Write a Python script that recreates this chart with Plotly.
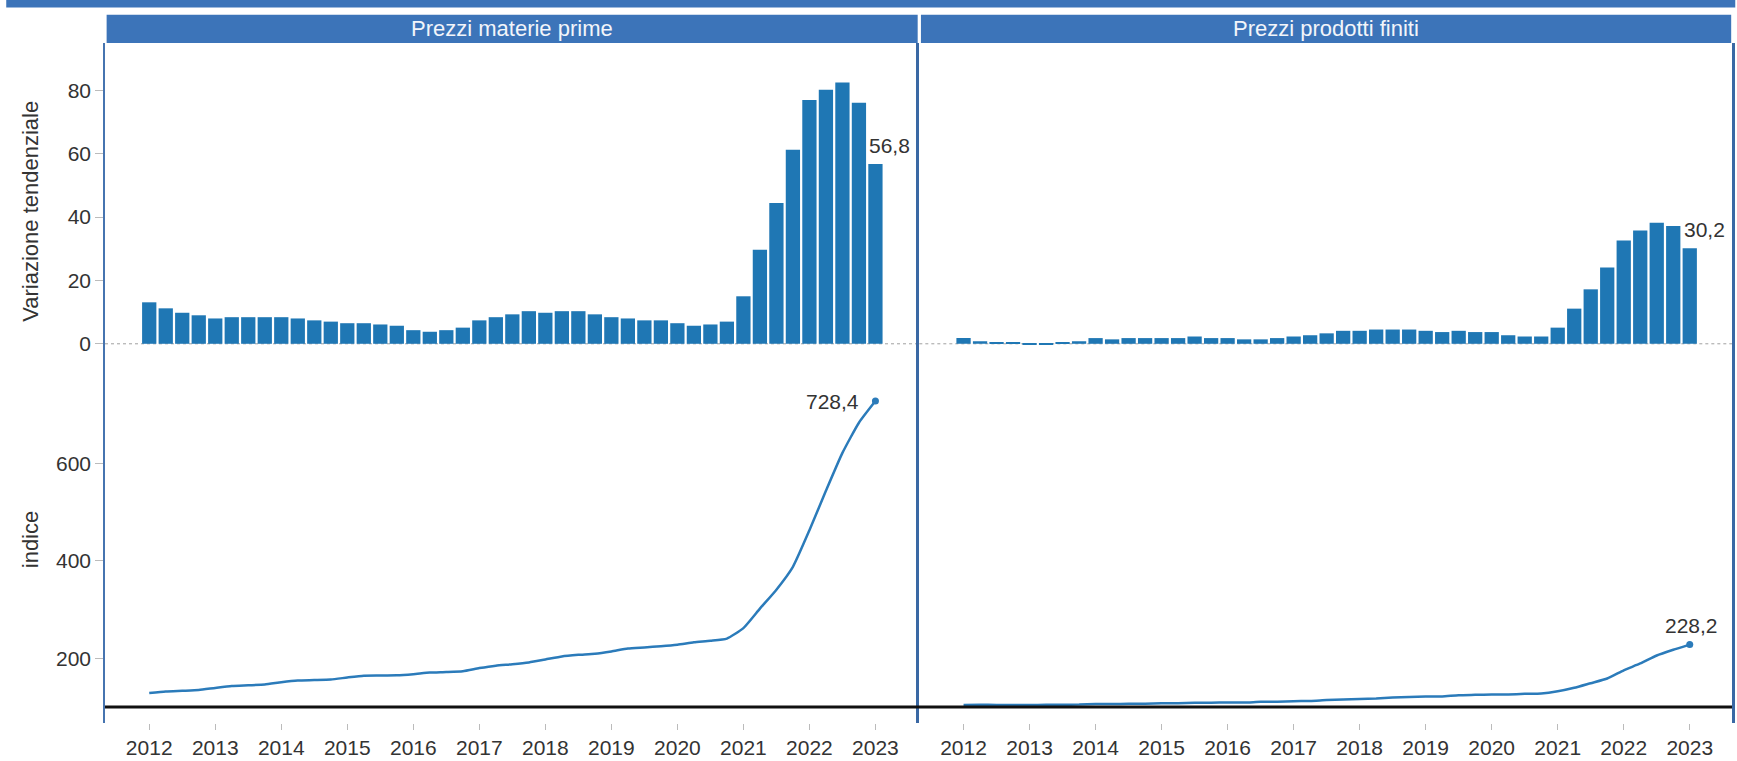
import plotly.graph_objects as go

# ---------------- data ----------------
years = list(range(2012, 2024))
quarters = [f"{y} T{q}" for y in range(2012, 2024) for q in range(1, 5)][:45]

panel_titles = ["Prezzi materie prime", "Prezzi prodotti finiti"]
y_title_bar = "Variazione tendenziale"
y_title_line = "indice"

# variazione tendenziale (%), trimestrale
var_materie = [13.1, 11.2, 9.8, 9.0, 8.0, 8.4, 8.4, 8.4, 8.4, 8.0,
               7.4, 7.0, 6.5, 6.5, 6.1, 5.7, 4.3, 3.8, 4.3, 5.1,
               7.4, 8.4, 9.3, 10.3, 9.8, 10.3, 10.3, 9.3, 8.4, 8.0,
               7.4, 7.4, 6.5, 5.7, 6.1, 7.0, 15.0, 29.7, 44.5, 61.3,
               77.0, 80.2, 82.5, 76.1, 56.8]
var_finiti = [1.8, 0.8, 0.4, 0.4, -0.2, -0.2, 0.4, 0.8, 1.8, 1.4,
              1.8, 1.8, 1.8, 1.8, 2.3, 1.8, 1.8, 1.4, 1.4, 1.8,
              2.3, 2.7, 3.3, 4.1, 4.1, 4.5, 4.5, 4.5, 4.1, 3.7,
              4.1, 3.7, 3.7, 2.7, 2.3, 2.3, 5.1, 11.1, 17.2, 24.1,
              32.6, 35.8, 38.2, 37.2, 30.2]

# indice
idx_materie = [128.8, 131.9, 133.3, 134.8, 139.1, 143.0, 144.5, 146.1, 150.8, 154.4,
               155.2, 156.3, 160.6, 164.4, 164.7, 165.2, 167.5, 170.6, 171.8, 173.6,
               179.9, 184.9, 187.8, 191.5, 197.5, 203.9, 207.1, 209.3, 214.1, 220.2,
               222.4, 224.8, 228.0, 232.8, 236.0, 240.5, 262.0, 302.0, 341.0, 388.0,
               463.0, 544.0, 622.0, 684.0, 728.4]
idx_finiti = [104.3, 104.6, 104.2, 104.1, 104.1, 104.4, 104.6, 104.9, 106.0, 105.9,
              106.5, 106.8, 107.9, 107.8, 108.9, 108.7, 109.4, 109.3, 110.5, 110.7,
              111.9, 112.3, 114.1, 115.2, 116.5, 117.4, 119.3, 120.4, 121.3, 121.7,
              124.2, 124.9, 125.8, 125.8, 127.0, 127.7, 132.2, 139.4, 148.9, 158.5,
              175.3, 189.4, 205.8, 217.5, 228.2]

tick_vals = [f"{y} T1" for y in years]
tick_text = [str(y) for y in years]

# ---------------- style ----------------
BAR = "#1f77b4"
LINE = "#2b7bba"
HEAD = "#3c74b9"
AXBLUE = "#4674b0"
TXT = "#333333"
FONT = "Arial, Liberation Sans, sans-serif"


def fmt(v):
    return f"{v:.1f}".replace(".", ",")


fig = go.Figure()

panels = [("x", "y", "y3", var_materie, idx_materie),
          ("x2", "y2", "y4", var_finiti, idx_finiti)]

for xa, yb, yl, bars, line in panels:
    fig.add_trace(go.Bar(x=quarters, y=bars, xaxis=xa, yaxis=yb,
                         marker=dict(color=BAR, line=dict(width=0)),
                         showlegend=False, hoverinfo="x+y"))
    fig.add_trace(go.Scatter(x=quarters, y=line, xaxis=xa, yaxis=yl, mode="lines",
                             line=dict(color=LINE, width=2.5, shape="spline", smoothing=0.5),
                             showlegend=False))
    fig.add_trace(go.Scatter(x=[quarters[-1]], y=[line[-1]], xaxis=xa, yaxis=yl,
                             mode="markers", marker=dict(color=LINE, size=7),
                             showlegend=False))

xr = [-2.68, 46.56]
xcommon = dict(type="category", categoryorder="array", categoryarray=quarters,
               range=xr, tickmode="array", tickvals=tick_vals, ticktext=tick_text,
               ticks="outside", ticklen=6, tickcolor="#bbbbbb", showline=False,
               showgrid=False, zeroline=False, tickangle=0,
               tickfont=dict(size=21, color=TXT, family=FONT))

ybar_rng = [-7.66, 95.0]
yline_rng = [67.1, 796.3]
ycommon = dict(showgrid=False, zeroline=False, ticks="outside", ticklen=8,
               tickcolor="#bbbbbb", tickfont=dict(size=21, color=TXT, family=FONT))

split = 0.522
fig.update_layout(
    width=1737, height=761,
    margin=dict(l=105, r=2, t=43, b=34),
    paper_bgcolor="white", plot_bgcolor="white",
    bargap=0.135,
    font=dict(family=FONT, color=TXT),
    xaxis=dict(domain=[0, 0.4995], anchor="y3", **xcommon),
    xaxis2=dict(domain=[0.5005, 1], anchor="y4", **xcommon),
    yaxis=dict(domain=[split, 1], anchor="x", range=ybar_rng, tickvals=[0, 20, 40, 60, 80],
               showline=True, linecolor=AXBLUE, linewidth=1.5, **ycommon),
    yaxis2=dict(domain=[split, 1], anchor="x2", range=ybar_rng, showticklabels=False,
                showline=True, linecolor="#3a68a4", linewidth=2.5, mirror=True,
                showgrid=False, zeroline=False, ticks=""),
    yaxis3=dict(domain=[0, split], anchor="x", range=yline_rng, tickvals=[200, 400, 600],
                showline=True, linecolor=AXBLUE, linewidth=1.5, **ycommon),
    yaxis4=dict(domain=[0, split], anchor="x2", range=yline_rng, showticklabels=False,
                showline=True, linecolor="#3a68a4", linewidth=2.5, mirror=True,
                showgrid=False, zeroline=False, ticks=""),
)

shapes = []
# top (cut) title band
shapes.append(dict(type="rect", xref="paper", yref="paper", x0=-0.0607, x1=1.002,
                   y0=1.0522, y1=1.07, fillcolor=HEAD, line=dict(width=0), layer="above"))
# facet headers
for x0, x1 in [(0.001, 0.4995), (0.5015, 0.9995)]:
    shapes.append(dict(type="rect", xref="paper", yref="paper", x0=x0, x1=x1,
                       y0=1.0, y1=1.0414, fillcolor=HEAD, line=dict(width=0), layer="above"))
# dotted zero lines
for xa, ya in [("x", "y"), ("x2", "y2")]:
    shapes.append(dict(type="line", xref=f"{xa} domain", yref=ya, x0=0, x1=1, y0=0, y1=0,
                       line=dict(color="#a0a0a0", width=1, dash="dot"), layer="below"))
# black reference line at 100
shapes.append(dict(type="line", xref="paper", yref="y3", x0=0, x1=1, y0=100, y1=100,
                   line=dict(color="#111111", width=3), layer="above"))
fig.update_layout(shapes=shapes)

ann = []
for xc, t in [(0.25, panel_titles[0]), (0.7505, panel_titles[1])]:
    ann.append(dict(xref="paper", yref="paper", x=xc, y=1.0207, text=t, showarrow=False,
                    xanchor="center", yanchor="middle",
                    font=dict(size=22, color="#f2f5fa", family=FONT)))
ann.append(dict(xref="paper", yref="paper", x=-0.046, y=0.752, text=y_title_bar,
                textangle=-90, showarrow=False, xanchor="center", yanchor="middle",
                font=dict(size=22, color=TXT, family=FONT)))
ann.append(dict(xref="paper", yref="paper", x=-0.046, y=0.269, text=y_title_line,
                textangle=-90, showarrow=False, xanchor="center", yanchor="middle",
                font=dict(size=22, color=TXT, family=FONT)))
# value labels
for xa, ya, bars in [("x", "y", var_materie), ("x2", "y2", var_finiti)]:
    ann.append(dict(xref=xa, yref=ya, x=quarters[-1], y=bars[-1], text=fmt(bars[-1]),
                    showarrow=False, xanchor="left", yanchor="bottom", xshift=-8, yshift=5,
                    font=dict(size=21, color=TXT, family=FONT)))
ann.append(dict(xref="x", yref="y3", x=quarters[-1], y=idx_materie[-1], text=fmt(idx_materie[-1]),
                showarrow=False, xanchor="right", yanchor="middle", xshift=-14,
                font=dict(size=21, color=TXT, family=FONT)))
ann.append(dict(xref="x2", yref="y4", x=quarters[-1], y=idx_finiti[-1], text=fmt(idx_finiti[-1]),
                showarrow=False, xanchor="center", yanchor="bottom", xshift=2, yshift=6,
                font=dict(size=21, color=TXT, family=FONT)))
fig.update_layout(annotations=ann)

fig.write_html("out.html", config={"displayModeBar": False},
               post_script="document.body.style.margin='0';document.body.style.overflow='hidden';")
